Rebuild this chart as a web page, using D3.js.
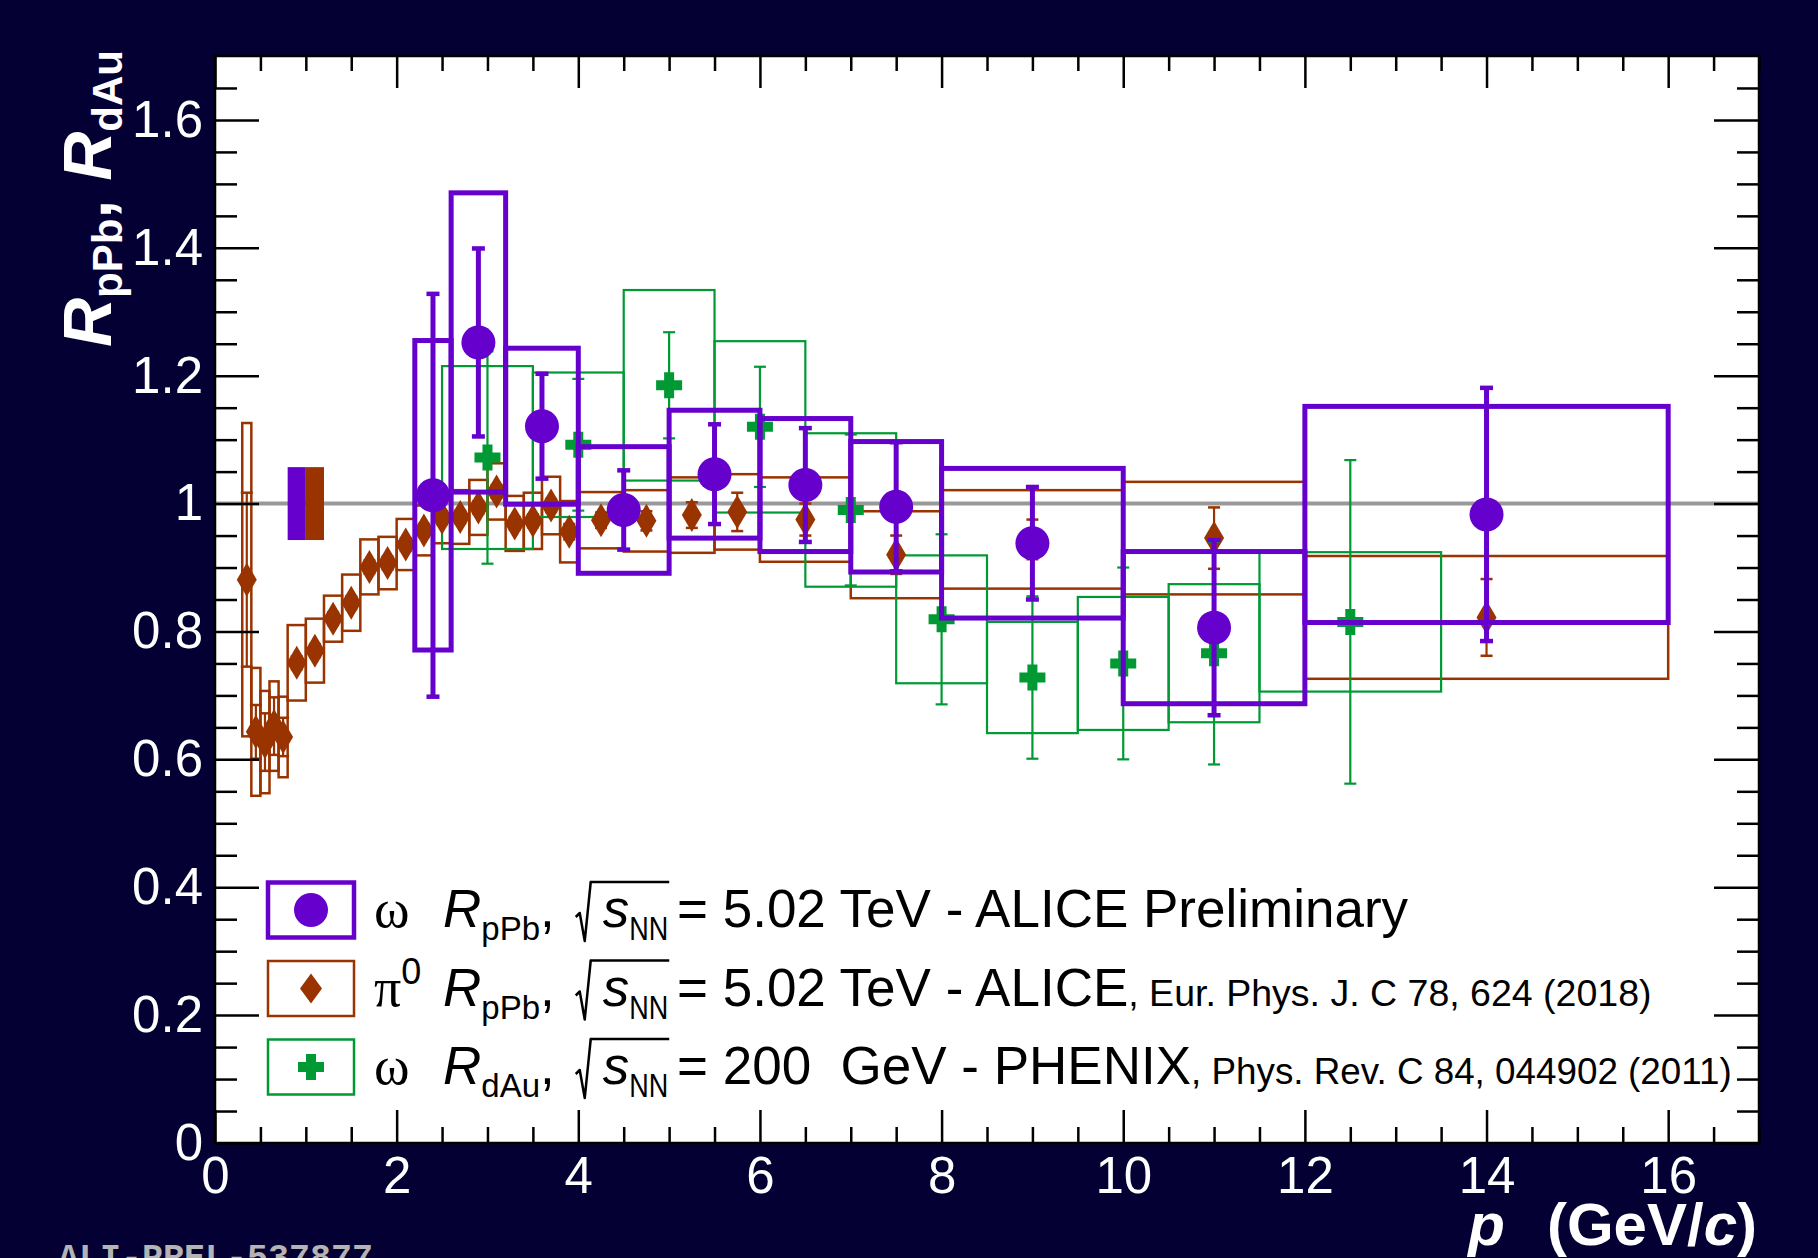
<!DOCTYPE html>
<html>
<head>
<meta charset="utf-8">
<script src="https://cdn.jsdelivr.net/npm/d3@7"></script>
<style>
  html, body { margin: 0; padding: 0; background: #040033; }
  svg { display: block; }
</style>
</head>
<body>
<svg id="chart" width="1818" height="1258"></svg>
<script>
// ---------------- data ----------------
// ALICE omega R_pPb, sqrt(s_NN) = 5.02 TeV (preliminary)
const omegaLo   = [2.2, 2.6, 3.2, 4.0, 5.0, 6.0, 7.0, 8.0, 10.0, 12.0];
const omegaHi   = [2.6, 3.2, 4.0, 5.0, 6.0, 7.0, 8.0, 10.0, 12.0, 16.0];
const omegaPt   = [2.4, 2.9, 3.6, 4.5, 5.5, 6.5, 7.5, 9.0, 11.0, 14.0];
const omegaR    = [1.013, 1.252, 1.121, 0.990, 1.046, 1.029, 0.995, 0.938, 0.806, 0.983];
const omegaStat = [0.315, 0.147, 0.082, 0.062, 0.078, 0.089, 0.101, 0.088, 0.137, 0.198];
const omegaSys  = [0.242, 0.234, 0.122, 0.099, 0.100, 0.104, 0.102, 0.117, 0.119, 0.169];

// ALICE pi0 R_pPb, sqrt(s_NN) = 5.02 TeV
const pi0Edges = [0.3, 0.4, 0.5, 0.6, 0.7, 0.8, 1.0, 1.2, 1.4, 1.6, 1.8, 2.0, 2.2, 2.4, 2.6, 2.8,
                  3.0, 3.2, 3.4, 3.6, 3.8, 4.0, 4.5, 5.0, 5.5, 6.0, 7.0, 8.0, 10.0, 12.0, 16.0];
const pi0Pt    = [0.35, 0.45, 0.55, 0.65, 0.75, 0.9, 1.1, 1.3, 1.5, 1.7, 1.9, 2.1, 2.3, 2.5, 2.7,
                  2.9, 3.1, 3.3, 3.5, 3.7, 3.9, 4.25, 4.75, 5.25, 5.75, 6.5, 7.5, 9.0, 11.0, 14.0];
const pi0R     = [0.881, 0.643, 0.627, 0.652, 0.635, 0.751, 0.770, 0.820, 0.845, 0.901, 0.907, 0.936,
                  0.958, 0.978, 0.979, 0.994, 1.019, 0.969, 0.973, 0.997, 0.956, 0.974, 0.973, 0.982,
                  0.987, 0.975, 0.920, 0.944, 0.946, 0.822];
const pi0Stat  = [0.136, 0.042, 0.045, 0.045, 0.030, 0.010, 0.010, 0.010, 0.010, 0.010, 0.010, 0.010,
                  0.010, 0.010, 0.010, 0.010, 0.010, 0.010, 0.010, 0.010, 0.012, 0.012, 0.015, 0.020,
                  0.030, 0.025, 0.030, 0.031, 0.048, 0.060];
const pi0Sys   = [0.245, 0.100, 0.080, 0.070, 0.063, 0.059, 0.050, 0.036, 0.044, 0.043, 0.041, 0.040,
                  0.039, 0.040, 0.042, 0.043, 0.044, 0.043, 0.044, 0.045, 0.048, 0.044, 0.048, 0.059,
                  0.059, 0.066, 0.068, 0.077, 0.088, 0.096];

// PHENIX omega R_dAu, sqrt(s_NN) = 200 GeV
const phxLo   = [2.5, 3.5, 4.5, 5.5, 6.5, 7.5, 8.5, 9.5, 10.5, 11.5];
const phxHi   = [3.5, 4.5, 5.5, 6.5, 7.5, 8.5, 9.5, 10.5, 11.5, 13.5];
const phxPt   = [3.0, 4.0, 5.0, 6.0, 7.0, 8.0, 9.0, 10.0, 11.0, 12.5];
const phxR    = [1.072, 1.092, 1.185, 1.120, 0.990, 0.819, 0.728, 0.750, 0.766, 0.815];
const phxStat = [0.166, 0.103, 0.083, 0.094, 0.118, 0.133, 0.127, 0.150, 0.174, 0.253];
const phxSys  = [0.143, 0.113, 0.149, 0.134, 0.120, 0.100, 0.087, 0.104, 0.108, 0.109];

// global normalisation uncertainties (omega, pi0), drawn around unity
const normCenter = [0.9, 1.1];
const normUnc    = [0.057, 0.057];
const normHalfW  = 0.1;

// axes
const xDomain     = [0, 17];
const yDomain     = [0, 1.7];
const xTickValues = [0, 2, 4, 6, 8, 10, 12, 14, 16];
const xTickLabels = ["0", "2", "4", "6", "8", "10", "12", "14", "16"];
const yTickValues = [0, 0.2, 0.4, 0.6, 0.8, 1.0, 1.2, 1.4, 1.6];
const yTickLabels = ["0", "0.2", "0.4", "0.6", "0.8", "1", "1.2", "1.4", "1.6"];

// ---------------- drawing ----------------
const W = 1818, H = 1258;
const M = { l: 215, r: 1759, t: 56, b: 1143 };
const SANS = "'Liberation Sans', Arial, Helvetica, sans-serif";
const SERIF = "'Liberation Serif', 'Times New Roman', serif";
const MONO = "'Liberation Mono', 'Courier New', monospace";

const C_OMEGA = "#6600cc", C_PI0 = "#993300", C_PHX = "#009933";

const svg = d3.select("#chart");
const x = d3.scaleLinear().domain(xDomain).range([M.l, M.r]);
const y = d3.scaleLinear().domain(yDomain).range([M.b, M.t]);

svg.append("rect").attr("width", W).attr("height", H).attr("fill", "#040033");
svg.append("rect").attr("x", M.l).attr("y", M.t)
  .attr("width", M.r - M.l).attr("height", M.b - M.t).attr("fill", "#ffffff");

svg.append("defs").append("clipPath").attr("id", "plotClip")
  .append("rect").attr("x", M.l).attr("y", M.t).attr("width", M.r - M.l).attr("height", M.b - M.t);

const plot = svg.append("g").attr("clip-path", "url(#plotClip)");

// unity reference line
plot.append("line")
  .attr("x1", x(xDomain[0])).attr("x2", x(xDomain[1]))
  .attr("y1", y(1)).attr("y2", y(1))
  .attr("stroke", "#999999").attr("stroke-width", 4);

// normalisation boxes
plot.append("g").selectAll("rect")
  .data(normCenter.map((c, i) => ({ c, e: normUnc[i], col: i === 0 ? C_OMEGA : C_PI0 })))
  .join("rect")
  .attr("x", d => x(d.c - normHalfW)).attr("width", d => x(d.c + normHalfW) - x(d.c - normHalfW))
  .attr("y", d => y(1 + d.e)).attr("height", d => y(1 - d.e) - y(1 + d.e))
  .attr("fill", d => d.col);

function sysBoxes(lo, hi, val, err, color, sw) {
  plot.append("g").selectAll("rect")
    .data(val.map((v, i) => ({ lo: lo[i], hi: hi[i], v, e: err[i] })))
    .join("rect")
    .attr("x", d => x(d.lo)).attr("width", d => x(d.hi) - x(d.lo))
    .attr("y", d => y(d.v + d.e)).attr("height", d => y(d.v - d.e) - y(d.v + d.e))
    .attr("fill", "none").attr("stroke", color).attr("stroke-width", sw);
}

function statBars(pt, val, err, color, sw, capW, capT) {
  const g = plot.append("g");
  const data = val.map((v, i) => ({ p: pt[i], v, e: err[i] }));
  g.selectAll("line").data(data).join("line")
    .attr("x1", d => x(d.p)).attr("x2", d => x(d.p))
    .attr("y1", d => y(d.v - d.e)).attr("y2", d => y(d.v + d.e))
    .attr("stroke", color).attr("stroke-width", sw);
  const caps = data.flatMap(d => [d.v - d.e, d.v + d.e].map(yy => ({ p: d.p, yy })));
  g.selectAll("rect").data(caps).join("rect")
    .attr("x", d => x(d.p) - capW / 2).attr("width", capW)
    .attr("y", d => y(d.yy) - capT / 2).attr("height", capT)
    .attr("fill", color);
}

const diamondPath = "M0,-17 L10,0 L0,17 L-10,0 Z";
const crossPath = "M-5,-13 h10 v8 h8 v10 h-8 v8 h-10 v-8 h-8 v-10 h8 Z";

function markers(pt, val, color, kind) {
  const g = plot.append("g");
  const data = val.map((v, i) => ({ p: pt[i], v }));
  if (kind === "circle") {
    g.selectAll("circle").data(data).join("circle")
      .attr("cx", d => x(d.p)).attr("cy", d => y(d.v)).attr("r", 17).attr("fill", color);
  } else {
    g.selectAll("path").data(data).join("path")
      .attr("transform", d => `translate(${x(d.p)},${y(d.v)})`)
      .attr("d", kind === "diamond" ? diamondPath : crossPath)
      .attr("fill", color);
  }
}

// systematic boxes
sysBoxes(pi0Edges.slice(0, -1), pi0Edges.slice(1), pi0R, pi0Sys, C_PI0, 2.5);
sysBoxes(phxLo, phxHi, phxR, phxSys, C_PHX, 2.2);
// pi0 and PHENIX points
statBars(pi0Pt, pi0R, pi0Stat, C_PI0, 2.2, 12, 2.5);
markers(pi0Pt, pi0R, C_PI0, "diamond");
statBars(phxPt, phxR, phxStat, C_PHX, 2.2, 12, 2.2);
markers(phxPt, phxR, C_PHX, "cross");
// omega (ALICE preliminary) on top
sysBoxes(omegaLo, omegaHi, omegaR, omegaSys, C_OMEGA, 5);
statBars(omegaPt, omegaR, omegaStat, C_OMEGA, 5, 13, 4.5);
markers(omegaPt, omegaR, C_OMEGA, "circle");

// ---------------- axes ----------------
const xMinor = d3.range(0, 17.001, 0.5).filter(v => Math.abs(v / 2 - Math.round(v / 2)) > 1e-6);
const yMinor = d3.range(0, 1.7001, 0.05).filter(v => Math.abs(v / 0.2 - Math.round(v / 0.2)) > 1e-6 && v < 1.699);

function styleAxis(g) {
  g.select(".domain").remove();
  g.selectAll(".tick line").attr("stroke", "#000").attr("stroke-width", 2.5);
  g.selectAll(".tick text").attr("fill", "#fff").attr("font-size", 51).attr("font-family", SANS);
}

svg.append("g").attr("transform", `translate(0,${M.b})`)
  .call(d3.axisBottom(x).tickValues(xTickValues).tickFormat((d, i) => xTickLabels[i])
    .tickSize(-33).tickSizeOuter(0).tickPadding(14)).call(styleAxis);
svg.append("g").attr("transform", `translate(0,${M.b})`)
  .call(d3.axisBottom(x).tickValues(xMinor).tickFormat("").tickSize(-16).tickSizeOuter(0)).call(styleAxis);
svg.append("g").attr("transform", `translate(0,${M.t})`)
  .call(d3.axisTop(x).tickValues(xTickValues).tickFormat("").tickSize(-32).tickSizeOuter(0)).call(styleAxis);
svg.append("g").attr("transform", `translate(0,${M.t})`)
  .call(d3.axisTop(x).tickValues(xMinor).tickFormat("").tickSize(-15).tickSizeOuter(0)).call(styleAxis);

svg.append("g").attr("transform", `translate(${M.l},0)`)
  .call(d3.axisLeft(y).tickValues(yTickValues).tickFormat((d, i) => yTickLabels[i])
    .tickSize(-44).tickSizeOuter(0).tickPadding(12)).call(styleAxis);
svg.append("g").attr("transform", `translate(${M.l},0)`)
  .call(d3.axisLeft(y).tickValues(yMinor).tickFormat("").tickSize(-22).tickSizeOuter(0)).call(styleAxis);
svg.append("g").attr("transform", `translate(${M.r},0)`)
  .call(d3.axisRight(y).tickValues(yTickValues).tickFormat("").tickSize(-45).tickSizeOuter(0)).call(styleAxis);
svg.append("g").attr("transform", `translate(${M.r},0)`)
  .call(d3.axisRight(y).tickValues(yMinor).tickFormat("").tickSize(-22).tickSizeOuter(0)).call(styleAxis);

// frame
svg.append("rect").attr("x", M.l).attr("y", M.t)
  .attr("width", M.r - M.l).attr("height", M.b - M.t)
  .attr("fill", "none").attr("stroke", "#000").attr("stroke-width", 2.5);

// axis titles
const yt = svg.append("text")
  .attr("transform", "translate(111,50) rotate(-90)")
  .attr("text-anchor", "end").attr("fill", "#fff")
  .attr("font-family", SANS).attr("font-weight", "bold").attr("font-size", 68);
yt.append("tspan").attr("font-style", "italic").text("R");
yt.append("tspan").attr("font-size", 42).attr("dy", 11).text("pPb");
yt.append("tspan").attr("dy", -11).text(", ");
yt.append("tspan").attr("font-style", "italic").text("R");
yt.append("tspan").attr("font-size", 42).attr("dy", 11).text("dAu");

const xt = svg.append("text")
  .attr("x", 1757).attr("y", 1245).attr("text-anchor", "end").attr("fill", "#fff")
  .attr("font-family", SANS).attr("font-weight", "bold").attr("font-size", 60);
xt.append("tspan").attr("font-style", "italic").text("p");
xt.append("tspan").attr("dx", 42).text("(GeV/");
xt.append("tspan").attr("font-style", "italic").text("c");
xt.append("tspan").text(")");

svg.append("text").attr("x", 58).attr("y", 1268)
  .attr("fill", "#b4b4b4").attr("font-family", MONO).attr("font-weight", "bold")
  .attr("font-size", 35).text("ALI-PREL-537877");

// ---------------- legend ----------------
const legend = svg.append("g");
const legRows = [
  { cy: 910, color: C_OMEGA, sw: 4.5, kind: "circle" },
  { cy: 988.5, color: C_PI0, sw: 2.5, kind: "diamond" },
  { cy: 1067, color: C_PHX, sw: 2.5, kind: "cross" }
];
legRows.forEach(r => {
  legend.append("rect").attr("x", 268).attr("y", r.cy - 27.5).attr("width", 86).attr("height", 55)
    .attr("fill", "#fff").attr("stroke", r.color).attr("stroke-width", r.sw);
  if (r.kind === "circle") {
    legend.append("circle").attr("cx", 311).attr("cy", r.cy).attr("r", 17).attr("fill", r.color);
  } else {
    legend.append("path").attr("transform", `translate(311,${r.cy})`)
      .attr("d", r.kind === "diamond" ? "M0,-15 L11,0 L0,15 L-11,0 Z" : crossPath)
      .attr("fill", r.color);
  }
});

function flowText(base, pieces) {
  let cx = 0, radX = 0;
  pieces.forEach(p => {
    if (p.at !== undefined) cx = p.at;
    if (p.gap) { cx += p.gap; }
    if (p.radStart) {
      radX = cx;
      legend.append("path")
        .attr("d", `M${cx - 4},${base - 10} L${cx},${base - 14} L${cx + 5},${base + 14} L${cx + 11},${base - 45}`)
        .attr("fill", "none").attr("stroke", "#000").attr("stroke-width", 2.5).attr("stroke-linejoin", "round");
      cx += 14;
      return;
    }
    if (p.radEnd) {
      legend.append("line").attr("x1", radX + 10).attr("x2", cx + 1)
        .attr("y1", base - 45).attr("y2", base - 45).attr("stroke", "#000").attr("stroke-width", 2.5);
      return;
    }
    if (p.t === undefined) return;
    const t = legend.append("text").attr("x", cx).attr("y", base + (p.dy || 0))
      .attr("font-family", p.fam || SANS).attr("font-size", p.size || 53)
      .attr("font-style", p.it ? "italic" : null).attr("fill", "#000")
      .style("white-space", "pre").text(p.t);
    if (p.len) t.attr("textLength", p.len).attr("lengthAdjust", "spacingAndGlyphs");
    cx += p.len || t.node().getComputedTextLength();
  });
}

flowText(927, [
  { at: 374, t: "\u03c9", fam: SERIF, size: 54 },
  { at: 443, t: "R", it: 1 }, { t: "pPb", size: 33, dy: 13 }, { t: "," },
  { gap: 25, radStart: 1 }, { gap: 9, t: "s", it: 1 }, { t: "NN", size: 34, dy: 13, len: 39 }, { radEnd: 1 },
  { at: 677, t: "= 5.02 TeV - ALICE Preliminary" }
]);
flowText(1005.5, [
  { at: 374, t: "\u03c0", fam: SERIF, size: 54 }, { t: "0", size: 36, dy: -22 },
  { at: 443, t: "R", it: 1 }, { t: "pPb", size: 33, dy: 13 }, { t: "," },
  { gap: 25, radStart: 1 }, { gap: 9, t: "s", it: 1 }, { t: "NN", size: 34, dy: 13, len: 39 }, { radEnd: 1 },
  { at: 677, t: "= 5.02 TeV - ALICE" }, { t: ", Eur. Phys. J. C 78, 624 (2018)", size: 37.5 }
]);
flowText(1084, [
  { at: 374, t: "\u03c9", fam: SERIF, size: 54 },
  { at: 443, t: "R", it: 1 }, { t: "dAu", size: 33, dy: 13 }, { t: "," },
  { gap: 25, radStart: 1 }, { gap: 9, t: "s", it: 1 }, { t: "NN", size: 34, dy: 13, len: 39 }, { radEnd: 1 },
  { at: 677, t: "= 200  GeV - PHENIX" }, { t: ", Phys. Rev. C 84, 044902 (2011)", size: 36.8 }
]);
</script>
</body>
</html>
